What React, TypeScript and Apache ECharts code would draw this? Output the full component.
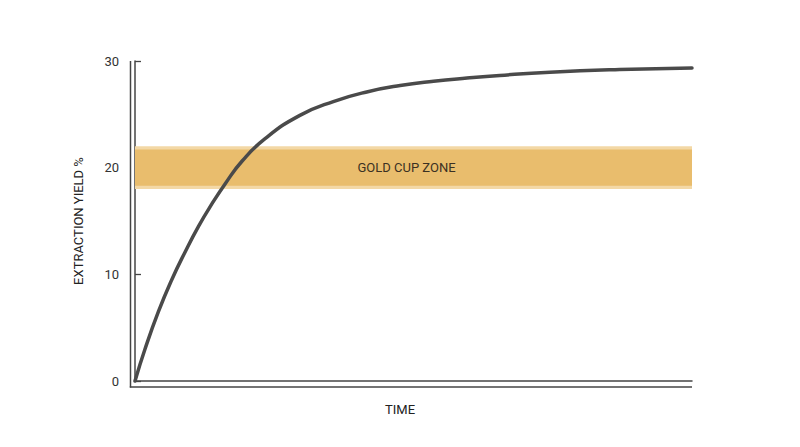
import { useEffect, useRef } from 'react'
import * as echarts from 'echarts'

// ── Data ──────────────────────────────────────────────────────────────────────
// time is unitless (0‥100 across the axis), yield in %
const TIME = [0, 1.8, 4.2, 6.6, 9.0, 11.4, 13.8, 16.2, 19.2, 23.3, 29.6, 35.6, 41.6, 47.6, 53.6, 59.6, 65.5, 74.5, 87, 100]
const YIELD = [0, 3.0, 6.5, 9.5, 12.1, 14.5, 16.6, 18.5, 20.6, 22.7, 24.9, 26.2, 27.1, 27.7, 28.1, 28.4, 28.65, 28.95, 29.2, 29.35]

// gold cup zone: outer (pale edge) and inner (solid) bounds, in %
const ZONE_OUTER = [18, 22]
const ZONE_INNER = [18.3, 21.7]
const ZONE_LABEL = 'GOLD CUP ZONE'

const Y_MIN = 0
const Y_MAX = 30
const Y_STEP = 10

// ── Layout ────────────────────────────────────────────────────────────────────
const W = 800
const H = 447
const GRID = { left: 135, right: 108, top: 61, bottom: 66 }
const AXIS_COLOR = '#444'
const FONT = 'Roboto, "Noto Sans", sans-serif'

export default function App() {
  const ref = useRef<HTMLDivElement>(null)

  useEffect(() => {
    if (!ref.current) return
    const chart = echarts.init(ref.current, null, { renderer: 'svg' })

    const bottomY = H - GRID.bottom
    const rightX = W - GRID.right

    chart.setOption({
      animation: false,
      backgroundColor: '#fff',
      textStyle: { fontFamily: FONT },
      grid: GRID,
      xAxis: {
        type: 'value',
        min: 0,
        max: 100,
        name: 'TIME',
        nameLocation: 'middle',
        nameGap: 22,
        nameTextStyle: { fontSize: 13, color: '#222', fontFamily: FONT, padding: [0, 27, 0, 0] },
        axisLine: { show: true, lineStyle: { color: AXIS_COLOR, width: 1.5 } },
        axisTick: { show: false },
        axisLabel: { show: false },
        splitLine: { show: false },
      },
      yAxis: {
        type: 'value',
        min: Y_MIN,
        max: Y_MAX,
        interval: Y_STEP,
        name: 'EXTRACTION YIELD %',
        nameLocation: 'middle',
        nameGap: 50,
        nameTextStyle: { fontSize: 13, color: '#222', fontFamily: FONT },
        axisLine: { show: true, lineStyle: { color: AXIS_COLOR, width: 1.5 } },
        axisTick: { show: true, inside: true, length: 6, lineStyle: { color: AXIS_COLOR, width: 1.3 } },
        axisLabel: { fontSize: 13, color: '#333', margin: 16, fontFamily: FONT },
        splitLine: { show: false },
      },
      // outer halves of the double-ruled axes
      graphic: [
        {
          type: 'line',
          shape: { x1: GRID.left - 4.5, y1: GRID.top, x2: GRID.left - 4.5, y2: bottomY + 6.5 },
          style: { stroke: AXIS_COLOR, lineWidth: 1.5 },
        },
        {
          type: 'line',
          shape: { x1: GRID.left - 5.2, y1: bottomY + 6, x2: rightX, y2: bottomY + 6 },
          style: { stroke: AXIS_COLOR, lineWidth: 1.5 },
        },
      ],
      series: [
        {
          type: 'line',
          z: 1,
          data: [],
          clip: false,
          markArea: {
            silent: true,
            data: [
              [
                { xAxis: 0, yAxis: ZONE_OUTER[0], itemStyle: { color: '#f3d8a6' } },
                { xAxis: 100.7, yAxis: ZONE_OUTER[1] },
              ],
              [
                {
                  xAxis: 0,
                  yAxis: ZONE_INNER[0],
                  itemStyle: { color: '#e9bd6d' },
                  label: {
                    show: true,
                    position: 'inside',
                    formatter: ZONE_LABEL,
                    fontSize: 13,
                    color: '#3b3123',
                    fontFamily: FONT,
                    offset: [-7, 0],
                  },
                },
                { xAxis: 100.7, yAxis: ZONE_INNER[1] },
              ],
            ],
          },
        },
        {
          type: 'line',
          z: 3,
          smooth: 0.5,
          showSymbol: false,
          clip: false,
          lineStyle: { color: '#4a4a4a', width: 3.5, cap: 'round' },
          data: TIME.map((t, i) => [t, YIELD[i]]),
        },
      ],
    })

    return () => chart.dispose()
  }, [])

  return (
    <div
      ref={ref}
      style={{ position: 'absolute', left: 0, top: 0, width: W, height: H, background: '#fff' }}
    />
  )
}
